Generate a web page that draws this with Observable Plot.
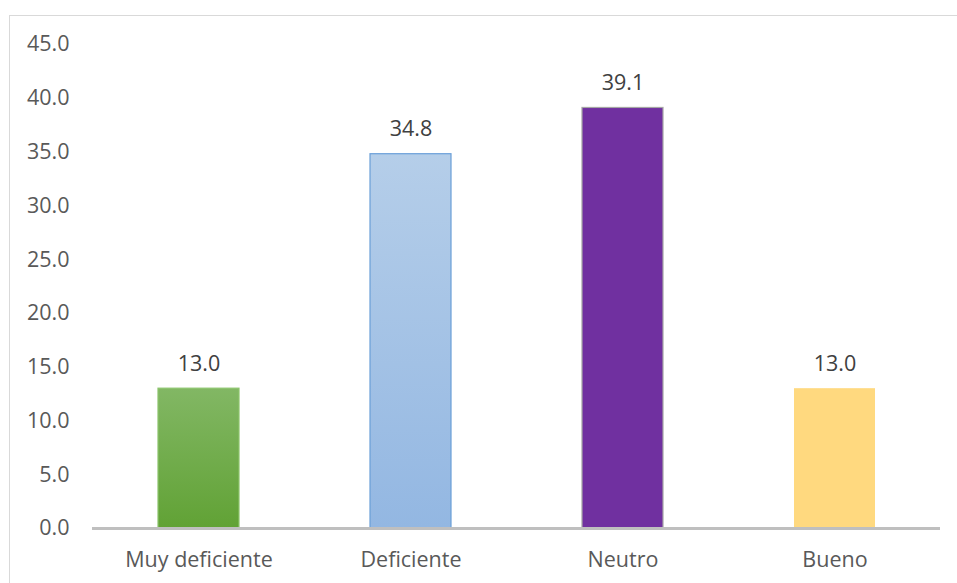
<!DOCTYPE html>
<html>
<head>
<meta charset="utf-8">
<script src="https://cdn.jsdelivr.net/npm/d3@7"></script>
<script src="https://cdn.jsdelivr.net/npm/@observablehq/plot@0.6"></script>
<style>
  html, body { margin: 0; padding: 0; background: #fff; }
  #wrap { position: relative; width: 957px; height: 583px; overflow: hidden; }
  #frame { position: absolute; left: 9px; top: 15px; width: 1000px; height: 700px; border: 1px solid #d9d9d9; pointer-events: none; }
</style>
</head>
<body>
<div id="wrap"><div id="frame"></div><div id="chart"></div></div>
<script>
const categories = ["Muy deficiente", "Deficiente", "Neutro", "Bueno"];
const values = [13.0, 34.8, 39.1, 13.0];
const gradTop = ["#82b764", "#b5cee9", "#7030a0", "#ffd97f"];
const gradBottom = ["#61a235", "#93b7e2", "#7030a0", "#ffd97f"];
const strokes = ["#8cc46c", "#6a9fd8", "#a5a5a5", "none"];
const yTicks = [0, 5, 10, 15, 20, 25, 30, 35, 40, 45];

const data = categories.map((c, i) => ({
  cat: c, value: values[i], fill: `url(#grad${i})`, stroke: strokes[i]
}));

const chart = Plot.plot({
  width: 957,
  height: 583,
  marginTop: 44,
  marginBottom: 55,
  marginLeft: 92,
  marginRight: 17,
  style: { fontFamily: "'Open Sans', sans-serif", fontSize: "21.5px", background: "transparent" },
  x: { domain: categories, paddingInner: 0.62, paddingOuter: 0.31, label: null },
  y: { domain: [0, 45], label: null },
  color: { type: "identity" },
  marks: [
    Plot.axisY({ ticks: yTicks, tickSize: 0, tickPadding: 23, tickFormat: d => d.toFixed(1), fill: "#595959", label: null }),
    Plot.axisX({ tickSize: 0, tickPadding: 23, fill: "#595959", label: null }),
    Plot.barY(data, { x: "cat", y: "value", fill: "fill", stroke: "stroke", strokeWidth: 1.2 }),
    Plot.ruleY([0], { stroke: "#bfbfbf", strokeWidth: 3 }),
    Plot.text(data, { x: "cat", y: "value", text: d => d.value.toFixed(1), dy: -25, fill: "#404040", fontSize: 21.5 })
  ]
});

const svg = d3.select(chart);
const defs = svg.insert("defs", ":first-child");
categories.forEach((c, i) => {
  const g = defs.append("linearGradient").attr("id", `grad${i}`)
    .attr("x1", 0).attr("y1", 0).attr("x2", 0).attr("y2", 1);
  g.append("stop").attr("offset", "0%").attr("stop-color", gradTop[i]);
  g.append("stop").attr("offset", "100%").attr("stop-color", gradBottom[i]);
});

document.getElementById("chart").appendChild(chart);
</script>
</body>
</html>
